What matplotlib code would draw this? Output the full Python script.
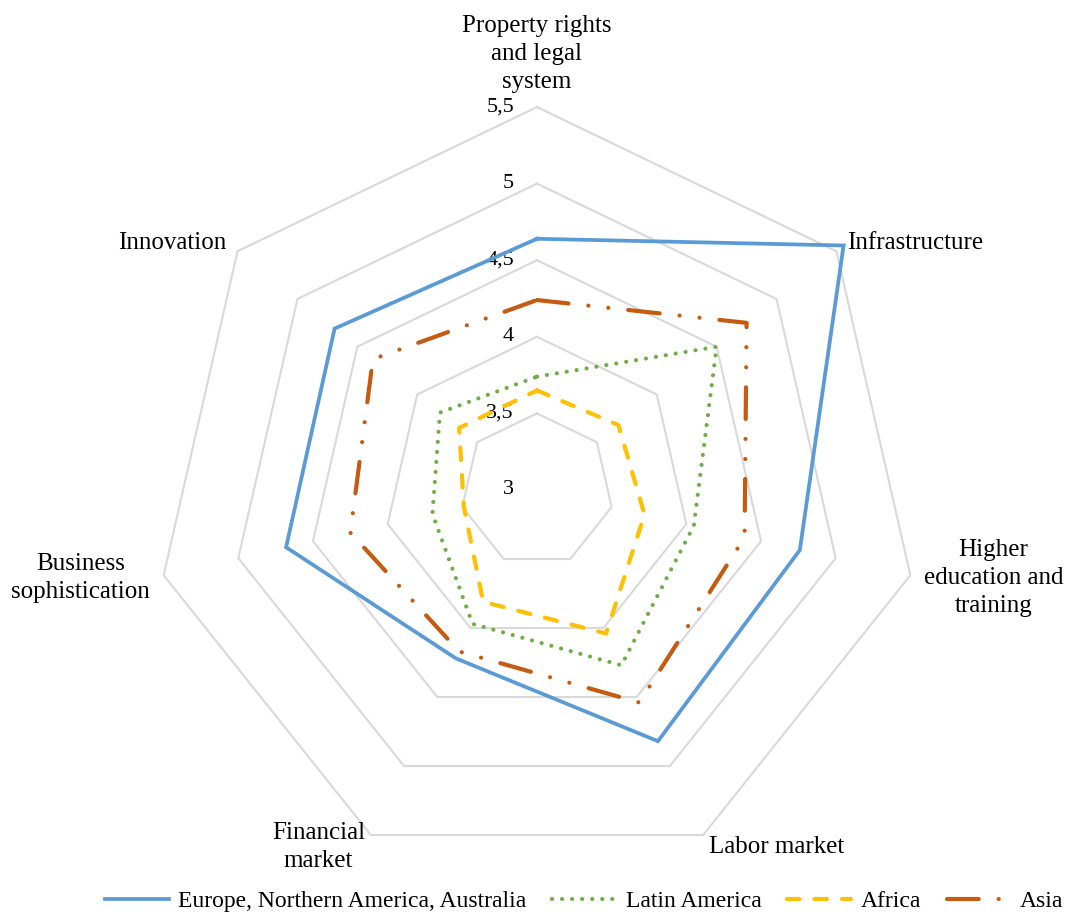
import numpy as np
import matplotlib
matplotlib.use("Agg")
import matplotlib.pyplot as plt
from matplotlib.lines import Line2D
from matplotlib.transforms import offset_copy

plt.rcParams["font.family"] = ["Liberation Serif", "DejaVu Serif"]

# ── Données ───────────────────────────────────────────────────────────────────

categories = [
    "Property rights\nand legal\nsystem",
    "Infrastructure",
    "Higher\neducation and\ntraining",
    "Labor market",
    "Financial\nmarket",
    "Business\nsophistication",
    "Innovation",
]

europe = [4.64, 5.56, 4.76, 4.82, 4.22, 4.68, 4.69]
latin_america = [3.74, 4.50, 4.05, 4.27, 3.97, 3.70, 3.81]
africa = [3.65, 3.68, 3.72, 4.04, 3.81, 3.49, 3.65]
asia = [4.24, 4.75, 4.39, 4.54, 4.17, 4.25, 4.37]

series_names = ["Europe, Northern America, Australia", "Latin America", "Africa", "Asia"]

levels = [3.0, 3.5, 4.0, 4.5, 5.0, 5.5]
level_labels = ["3", "3,5", "4", "4,5", "5", "5,5"]

# ── Figure ────────────────────────────────────────────────────────────────────

fig = plt.figure(figsize=(10.68, 9.14), dpi=100)
ax = fig.add_axes([0.1442, 0.0449, 0.7172, 0.838], projection="polar")
ax.set_theta_zero_location("N")
ax.set_theta_direction(-1)
ax.set_ylim(levels[0], levels[-1])
ax.grid(False)
ax.spines["polar"].set_visible(False)
ax.set_xticks([])
ax.set_yticks([])
ax.patch.set_alpha(0)

n = len(categories)
angles = np.linspace(0, 2 * np.pi, n, endpoint=False)
closed = np.append(angles, angles[0])

# heptagones de la grille
for lvl in levels[1:]:
    ax.plot(closed, [lvl] * (n + 1), color="#D9D9D9", lw=1.5, zorder=1, clip_on=False)

# graduations le long de l'axe vertical
tick_tr = offset_copy(ax.transData, fig=fig, x=-23, y=0, units="dots")
for lvl, lab in zip(levels, level_labels):
    ax.text(0, lvl, lab, transform=tick_tr, ha="right", va="center", fontsize=16)

styles = [
    dict(color="#5B9BD5", lw=2.7, ls="-", solid_joinstyle="miter"),
    dict(color="#70AD47", lw=3.0, ls=(0, (0.01, 2.4)), dash_capstyle="round"),
    dict(color="#FFC000", lw=3.0, ls=(0, (3.0, 3.6)), dash_capstyle="round"),
    dict(color="#C55A11", lw=3.0, ls=(0, (7.6, 4.8, 0.01, 4.8, 0.01, 4.8)),
         dash_capstyle="round"),
]

for vals, st in zip([europe, latin_america, africa, asia], styles):
    v = np.append(vals, vals[0])
    ax.plot(closed, v, zorder=3, clip_on=False, **st)

# libellés des catégories
r_lab = 5.59
label_pos = [
    dict(ha="center", va="bottom"),
    dict(ha="left", va="center"),
    dict(ha="left", va="center"),
    dict(ha="left", va="center"),
    dict(ha="right", va="center"),
    dict(ha="right", va="center"),
    dict(ha="right", va="center"),
]
for ang, cat, pos in zip(angles, categories, label_pos):
    ax.text(ang, r_lab, cat, fontsize=18, multialignment="center",
            linespacing=1.35, **pos)

# légende
handles = [Line2D([], [], **st) for st in styles]
fig.legend(handles, series_names, loc="center", bbox_to_anchor=(0.547, 0.014),
           ncol=4, frameon=False, fontsize=17, handlelength=2.7,
           handletextpad=0.4, columnspacing=1.1)

fig.savefig("out.png", dpi=100)
